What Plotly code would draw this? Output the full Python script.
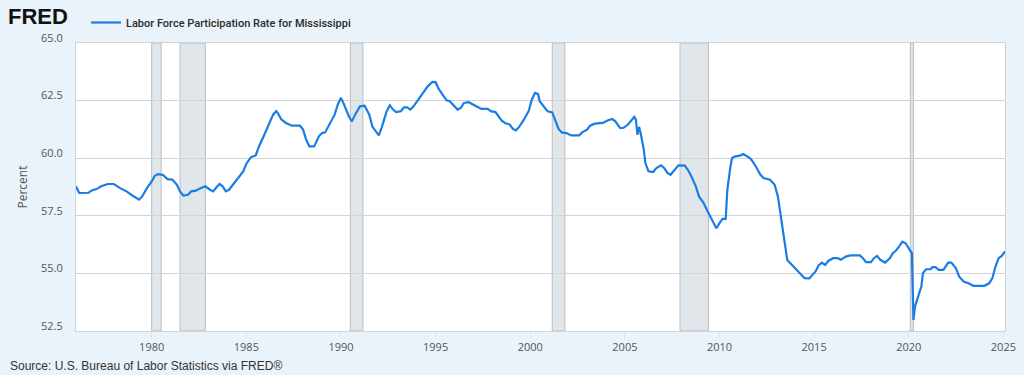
import plotly.graph_objects as go

# ---- data (monthly, selected points) ----
dates = [
    "1976-01", "1976-03", "1976-09", "1976-11", "1977-02", "1977-05", "1977-09", "1978-01",
    "1978-05", "1978-09", "1979-01", "1979-05", "1979-07", "1979-10", "1980-01", "1980-03",
    "1980-05", "1980-08", "1980-11", "1981-02", "1981-05", "1981-07", "1981-09", "1981-12",
    "1982-02", "1982-05", "1982-08", "1982-11", "1983-02", "1983-04", "1983-06", "1983-08",
    "1983-10", "1983-12", "1984-02", "1984-06", "1984-09", "1984-11", "1985-01", "1985-04",
    "1985-07", "1985-09", "1985-12", "1986-03", "1986-06", "1986-08", "1986-09", "1986-11",
    "1987-02", "1987-06", "1987-11", "1988-01", "1988-03", "1988-05", "1988-08", "1988-11",
    "1989-01", "1989-03", "1989-06", "1989-09", "1989-11", "1990-01", "1990-03", "1990-06",
    "1990-08", "1990-10", "1991-01", "1991-04", "1991-07", "1991-09", "1991-12", "1992-01",
    "1992-03", "1992-06", "1992-08", "1992-10", "1992-12", "1993-03", "1993-05", "1993-07",
    "1993-09", "1993-11", "1994-02", "1994-05", "1994-08", "1994-11", "1995-01", "1995-03",
    "1995-06", "1995-08", "1995-10", "1996-01", "1996-03", "1996-05", "1996-07", "1996-10",
    "1997-01", "1997-03", "1997-06", "1997-10", "1997-12", "1998-03", "1998-05", "1998-07",
    "1998-09", "1998-12", "1999-02", "1999-04", "1999-06", "1999-09", "1999-12", "2000-02",
    "2000-04", "2000-06", "2000-07", "2000-10", "2000-12", "2001-03", "2001-05", "2001-07",
    "2001-09", "2001-12", "2002-03", "2002-08", "2002-10", "2003-01", "2003-03", "2003-06",
    "2003-11", "2004-02", "2004-05", "2004-07", "2004-10", "2004-12", "2005-03", "2005-05",
    "2005-07", "2005-08", "2005-09", "2005-10", "2005-11", "2006-01", "2006-02", "2006-04",
    "2006-07", "2006-09", "2006-12", "2007-02", "2007-04", "2007-06", "2007-08", "2007-11",
    "2008-03", "2008-05", "2008-07", "2008-10", "2008-12", "2009-03", "2009-05", "2009-08",
    "2009-11", "2010-01", "2010-03", "2010-05", "2010-06", "2010-08", "2010-09", "2010-11",
    "2011-02", "2011-04", "2011-06", "2011-09", "2011-12", "2012-03", "2012-05", "2012-09",
    "2012-12", "2013-02", "2013-04", "2013-06", "2013-08", "2013-11", "2014-03", "2014-07",
    "2014-10", "2015-02", "2015-04", "2015-06", "2015-08", "2015-10", "2016-01", "2016-04",
    "2016-06", "2016-09", "2016-12", "2017-06", "2017-08", "2017-10", "2018-01", "2018-03",
    "2018-05", "2018-07", "2018-10", "2019-01", "2019-03", "2019-05", "2019-07", "2019-09",
    "2019-11", "2020-01", "2020-03", "2020-04", "2020-05", "2020-07", "2020-09", "2020-10",
    "2020-12", "2021-03", "2021-04", "2021-06", "2021-08", "2021-11", "2022-02", "2022-04",
    "2022-07", "2022-09", "2022-12", "2023-03", "2023-06", "2024-01", "2024-04", "2024-06",
    "2024-08", "2024-10", "2024-12", "2025-02",
]
lfpr = [
    58.78, 58.49, 58.50, 58.60, 58.66, 58.78, 58.88, 58.88,
    58.70, 58.56, 58.37, 58.20, 58.34, 58.70, 58.99, 59.24,
    59.31, 59.28, 59.09, 59.07, 58.85, 58.56, 58.38, 58.41,
    58.56, 58.59, 58.70, 58.78, 58.63, 58.56, 58.73, 58.88,
    58.78, 58.56, 58.63, 58.99, 59.28, 59.43, 59.76, 60.05,
    60.12, 60.51, 60.95, 61.38, 61.89, 62.04, 61.96, 61.70,
    61.53, 61.41, 61.41, 61.24, 60.80, 60.51, 60.51, 60.95,
    61.09, 61.12, 61.53, 61.89, 62.33, 62.62, 62.33, 61.82,
    61.60, 61.89, 62.25, 62.28, 61.89, 61.36, 61.09, 60.99,
    61.36, 62.04, 62.30, 62.11, 62.00, 62.04, 62.21, 62.21,
    62.11, 62.25, 62.54, 62.83, 63.12, 63.31, 63.30, 63.01,
    62.72, 62.51, 62.47, 62.25, 62.11, 62.18, 62.40, 62.43,
    62.33, 62.25, 62.14, 62.14, 62.04, 62.00, 61.82, 61.63,
    61.53, 61.46, 61.27, 61.21, 61.36, 61.67, 62.04, 62.54,
    62.83, 62.78, 62.47, 62.18, 62.04, 61.99, 61.67, 61.27,
    61.12, 61.09, 60.99, 60.99, 61.12, 61.24, 61.41, 61.50,
    61.53, 61.64, 61.70, 61.60, 61.31, 61.31, 61.46, 61.63,
    61.79, 61.67, 61.02, 61.36, 61.09, 60.37, 59.79, 59.43,
    59.40, 59.57, 59.69, 59.57, 59.36, 59.28, 59.46, 59.69,
    59.68, 59.50, 59.24, 58.78, 58.34, 58.05, 57.76, 57.33,
    56.96, 57.18, 57.37, 57.37, 58.63, 59.65, 60.01, 60.08,
    60.11, 60.18, 60.11, 59.96, 59.65, 59.28, 59.14, 59.07,
    58.85, 58.34, 57.40, 56.45, 55.58, 55.36, 55.07, 54.79,
    54.78, 55.10, 55.36, 55.47, 55.37, 55.54, 55.66, 55.66,
    55.59, 55.73, 55.78, 55.78, 55.66, 55.49, 55.49, 55.66,
    55.76, 55.59, 55.47, 55.66, 55.88, 55.99, 56.17, 56.38,
    56.31, 56.09, 55.88, 52.98, 53.56, 54.00, 54.43, 55.01,
    55.18, 55.18, 55.27, 55.27, 55.15, 55.15, 55.47, 55.47,
    55.22, 54.86, 54.64, 54.57, 54.46, 54.46, 54.57, 54.79,
    55.30, 55.66, 55.76, 55.95,
]

recession_starts = ["1980-01-01", "1981-07-01", "1990-07-01", "2001-03-01", "2007-12-01", "2020-02-01"]
recession_ends = ["1980-07-01", "1982-11-01", "1991-03-01", "2001-11-01", "2009-06-01", "2020-04-01"]

x_tick_years = ["1980", "1985", "1990", "1995", "2000", "2005", "2010", "2015", "2020", "2025"]
y_ticks = [52.5, 55.0, 57.5, 60.0, 62.5, 65.0]

series_name = "Labor Force Participation Rate for Mississippi"
source_text = "Source: U.S. Bureau of Labor Statistics via FRED®"

LINE_BLUE = "#1a7de3"
PAPER = "#eaf2fa"
TXT = "#555555"

fig = go.Figure()
fig.add_trace(go.Scatter(
    x=[d + "-01" for d in dates],
    y=lfpr,
    mode="lines",
    name=series_name,
    line=dict(color=LINE_BLUE, width=2.2),
))

for s, e in zip(recession_starts, recession_ends):
    fig.add_vrect(x0=s, x1=e, fillcolor="#e1e6eb", opacity=1, layer="below",
                  line=dict(color="#b9bdc2", width=1))

fig.update_layout(
    width=1024, height=375,
    margin=dict(l=76, r=19, t=43, b=44, autoexpand=False),
    paper_bgcolor=PAPER,
    plot_bgcolor="#ffffff",
    font=dict(family="Open Sans, sans-serif", size=11, color=TXT),
    showlegend=True,
    legend=dict(
        orientation="h", x=86 / 1024, y=1.0 - 8 / 375, xref="container", yref="container",
        xanchor="left", yanchor="top",
        font=dict(family="Roboto, Arial, sans-serif", size=11, color="#2a2a2a", weight=500),
        bgcolor="rgba(0,0,0,0)",
    ),
    xaxis=dict(
        type="date",
        range=["1976-01-01", "2025-02-01"],
        tickvals=[y + "-01-01" for y in x_tick_years],
        ticktext=x_tick_years,
        showgrid=False,
        ticks="outside", ticklen=6, tickcolor="#dde3ea",
        showline=True, linecolor="#cfd4d9", linewidth=1, mirror=True,
        tickfont=dict(family="Open Sans, sans-serif", size=11, color=TXT),
        zeroline=False,
    ),
    yaxis=dict(
        range=[52.5, 65.0],
        tickvals=y_ticks,
        tickformat=".1f",
        showgrid=True, gridcolor="#d4d4d4", gridwidth=1,
        showline=True, linecolor="#cfd4d9", linewidth=1, mirror=True,
        ticks="", ticklabelstandoff=10, ticklabelshift=-5,
        tickfont=dict(family="Open Sans, sans-serif", size=11, color=TXT),
        title=dict(text="Percent", standoff=10,
                   font=dict(family="Open Sans, sans-serif", size=12, color=TXT)),
        zeroline=False,
    ),
)

fig.add_annotation(
    text="<b>FRED</b>", xref="paper", yref="paper", x=-70 / 929, y=1.0,
    xanchor="left", yanchor="bottom", yshift=12, showarrow=False,
    font=dict(family="Liberation Sans, Arial, sans-serif", size=22, color="#111111"),
)
fig.add_annotation(
    text=source_text, xref="paper", yref="paper", x=-68 / 929, y=0,
    xanchor="left", yanchor="top", yshift=-26, showarrow=False,
    font=dict(family="Liberation Sans, Arial, sans-serif", size=12, color="#333333"),
)

fig.write_html("out.html", config={"displayModeBar": False},
               post_script="document.body.style.margin='0';")
